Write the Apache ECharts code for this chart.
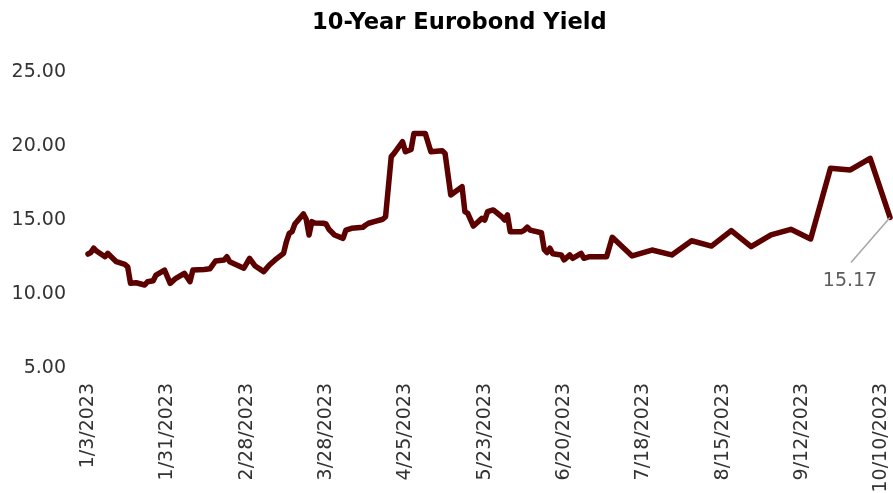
<!DOCTYPE html>
<html>
<head>
<meta charset="utf-8">
<script src="https://cdn.jsdelivr.net/npm/echarts@6/dist/echarts.min.js"></script>
<style>
html,body{margin:0;padding:0;background:#fff;}
#chart{width:893px;height:493px;}
</style>
</head>
<body>
<div id="chart"></div>
<script>
const titleText = '10-Year Eurobond Yield';
const dates = [
'2023-01-03','2023-01-04','2023-01-05','2023-01-06','2023-01-09','2023-01-10','2023-01-11','2023-01-13','2023-01-16','2023-01-17',
'2023-01-18','2023-01-20','2023-01-23','2023-01-24','2023-01-26','2023-01-27','2023-01-30','2023-02-01','2023-02-03','2023-02-06',
'2023-02-08','2023-02-09','2023-02-13','2023-02-15','2023-02-17','2023-02-20','2023-02-21','2023-02-22','2023-02-27','2023-03-01',
'2023-03-03','2023-03-06','2023-03-08','2023-03-10','2023-03-13','2023-03-14','2023-03-15','2023-03-16','2023-03-17','2023-03-20',
'2023-03-21','2023-03-22','2023-03-23','2023-03-24','2023-03-27','2023-03-28','2023-03-29','2023-03-31','2023-04-03','2023-04-04',
'2023-04-06','2023-04-10','2023-04-11','2023-04-12','2023-04-14','2023-04-17','2023-04-18','2023-04-20','2023-04-21','2023-04-24',
'2023-04-25','2023-04-27','2023-04-28','2023-05-02','2023-05-04','2023-05-08','2023-05-09','2023-05-11','2023-05-15','2023-05-16',
'2023-05-17','2023-05-19','2023-05-22','2023-05-23','2023-05-24','2023-05-26','2023-05-29','2023-05-30','2023-05-31','2023-06-01',
'2023-06-05','2023-06-06','2023-06-07','2023-06-08','2023-06-12','2023-06-13','2023-06-14','2023-06-15','2023-06-16','2023-06-19',
'2023-06-20','2023-06-22','2023-06-23','2023-06-26','2023-06-27','2023-06-29','2023-07-05','2023-07-07','2023-07-14','2023-07-21',
'2023-07-28','2023-08-04','2023-08-11','2023-08-18','2023-08-25','2023-09-01','2023-09-08','2023-09-15','2023-09-22','2023-09-29',
'2023-10-06','2023-10-13'
];
const yields = [
12.70,12.80,13.10,12.90,12.52,12.75,12.55,12.18,12.00,11.84,
10.72,10.76,10.61,10.83,10.90,11.28,11.62,10.72,11.06,11.40,
10.83,11.62,11.65,11.70,12.23,12.30,12.52,12.18,11.74,12.41,
11.89,11.51,11.96,12.30,12.75,13.53,14.10,14.21,14.73,15.41,
15.05,13.99,14.89,14.80,14.78,14.73,14.37,13.99,13.76,14.32,
14.44,14.51,14.66,14.78,14.89,15.05,15.22,19.28,19.50,20.29,
19.61,19.77,20.85,20.85,19.61,19.68,19.50,16.69,17.25,15.56,
15.45,14.59,15.11,15.00,15.56,15.68,15.22,15.00,15.34,14.21,
14.21,14.32,14.51,14.32,14.14,13.00,12.80,13.09,12.72,12.64,
12.30,12.64,12.41,12.75,12.41,12.52,12.52,13.83,12.57,12.97,
12.64,13.60,13.24,14.28,13.20,13.99,14.37,13.72,18.49,18.38,
19.17,15.17
];
const yTicks = [5, 10, 15, 20, 25];
const tickStepDays = 28;

const DAY = 86400000;
const toUTC = s => { const p = s.split('-').map(Number); return Date.UTC(p[0], p[1]-1, p[2]); };
const base = toUTC(dates[0]);
const dayOf = s => Math.round((toUTC(s) - base) / DAY);
const seriesData = dates.map((d, i) => [dayOf(d), yields[i]]);
const lastIdx = seriesData.length - 1;
const lastPoint = seriesData[lastIdx];
const fmtDay = v => { const d = new Date(base + v * DAY); return (d.getUTCMonth()+1) + '/' + d.getUTCDate() + '/' + d.getUTCFullYear(); };

const FONT = 'DejaVu Sans';
const TXT = '#333333';
const chart = echarts.init(document.getElementById('chart'));
chart.setOption({
  backgroundColor: '#ffffff',
  animation: false,
  title: {
    text: titleText, left: 307, top: 7,
    textStyle: { fontFamily: FONT, fontWeight: 'bold', fontSize: 22.6, color: '#000000' }
  },
  grid: { left: 88, right: 3, top: 72, bottom: 125, containLabel: false, outerBoundsMode: 'none' },
  xAxis: {
    type: 'value', min: 0, max: lastPoint[0], interval: tickStepDays,
    axisLine: { show: false }, axisTick: { show: false }, splitLine: { show: false },
    axisLabel: {
      rotate: 90, margin: 15, showMaxLabel: false,
      fontFamily: FONT, fontSize: 19, color: TXT,
      formatter: v => (v % tickStepDays === 0 ? fmtDay(v) : '')
    }
  },
  yAxis: {
    type: 'value', min: yTicks[0], max: yTicks[yTicks.length-1], interval: yTicks[1]-yTicks[0],
    axisLine: { show: false }, axisTick: { show: false }, splitLine: { show: false },
    axisLabel: { margin: 22, fontFamily: FONT, fontSize: 19, color: TXT, formatter: v => v.toFixed(2) }
  },
  series: [
    {
      type: 'line', data: seriesData, showSymbol: false, symbol: 'none', clip: false, z: 3,
      lineStyle: { color: '#5c0000', width: 5.5, join: 'round', cap: 'round' }
    },
    {
      type: 'scatter', data: [lastPoint], symbolSize: 2, clip: false, z: 2,
      itemStyle: { color: 'rgba(0,0,0,0)' },
      label: {
        show: true, position: 'bottom', fontFamily: FONT, fontSize: 19, color: TXT,
        formatter: p => p.value[1].toFixed(2)
      },
      labelLayout: function (p) {
        const ax = p.rect.x + p.rect.width / 2;
        const ay = p.rect.y + p.rect.height / 2;
        return { x: ax - 40, y: ay + 64, align: 'center', verticalAlign: 'middle' };
      }
    }
  ]
});

// leader line from the last point, offset in pixels, drawn as a markLine
const px = chart.convertToPixel({ gridIndex: 0 }, lastPoint);
const endCoord = chart.convertFromPixel({ gridIndex: 0 }, [px[0] - 39, px[1] + 45]);
chart.setOption({
  series: [{
    markLine: {
      silent: true, symbol: 'none', animation: false,
      label: { show: false },
      lineStyle: { color: '#a6a6a6', width: 1.5, type: 'solid' },
      data: [[{ coord: lastPoint }, { coord: endCoord }]]
    }
  }]
});
</script>
</body>
</html>
